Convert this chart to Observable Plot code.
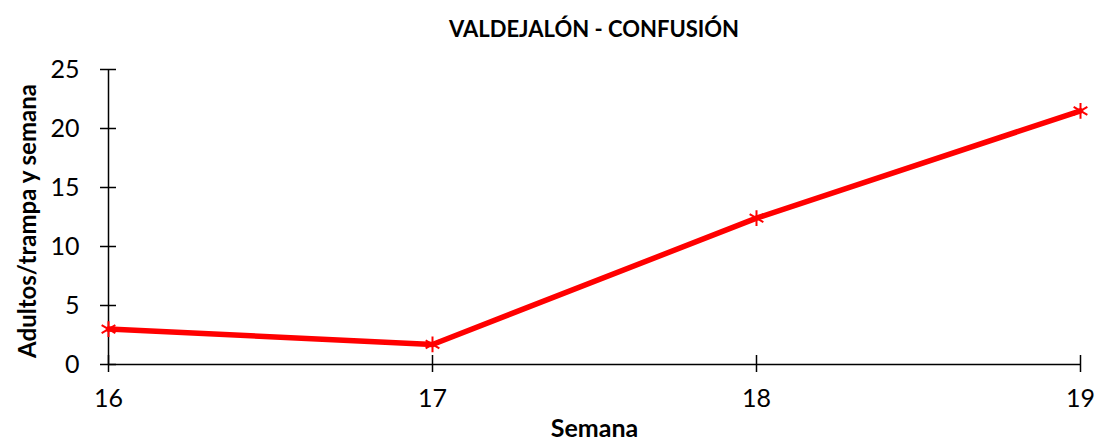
<!DOCTYPE html>
<html>
<head>
<meta charset="utf-8">
<script src="https://cdn.jsdelivr.net/npm/d3@7"></script>
<script src="https://cdn.jsdelivr.net/npm/@observablehq/plot@0.6"></script>
<style>
  body { margin: 0; background: #fff; font-family: Lato, sans-serif; }
  #title { height: 46px; width: 1099px; box-sizing: border-box; padding-left: 108px; padding-right: 19px;
           text-align: center; font-weight: bold; font-size: 22px; line-height: 58px; color: #000; overflow: hidden; }
</style>
</head>
<body>
<div id="title">VALDEJALÓN - CONFUSIÓN</div>
<div id="chart"></div>
<script>
const weeks = [16, 17, 18, 19];
const adults = [3.0, 1.7, 12.4, 21.5];
const yTicks = [0, 5, 10, 15, 20, 25];
const xTicks = [16, 17, 18, 19];
const yLabel = "Adultos/trampa y semana";
const xLabel = "Semana";

const data = weeks.map((w, i) => ({week: w, value: adults[i]}));

const chart = Plot.plot({
  width: 1099,
  height: 396,
  marginTop: 23,
  marginBottom: 78,
  marginLeft: 108,
  marginRight: 19,
  style: {fontFamily: "Lato", fontSize: "25px", color: "#000", background: "#fff", overflow: "visible"},
  x: {domain: [16, 19]},
  y: {domain: [0, 25]},
  marks: [
    Plot.ruleX([16], {stroke: "#000", strokeWidth: 1.5}),
    Plot.ruleY([0], {stroke: "#000", strokeWidth: 1.5}),
    Plot.axisY({ticks: yTicks, tickFormat: "d", tickSize: 16, dx: 8, tickPadding: 21, label: null, stroke: "#000", strokeWidth: 1.5, fontSize: 25}),
    Plot.axisX({ticks: xTicks, tickFormat: "d", tickSize: 17, dy: -9, tickPadding: 17, label: null, stroke: "#000", strokeWidth: 1.5, fontSize: 25}),
    Plot.line(data, {x: "week", y: "value", stroke: "#ff0000", strokeWidth: 5.5}),
    Plot.dot(data, {x: "week", y: "value", symbol: "asterisk", r: 7.5, stroke: "#ff0000", strokeWidth: 2}),
    Plot.text([yLabel], {frameAnchor: "left", textAnchor: "middle", rotate: -90, dx: -80, dy: 4, fontWeight: "bold", fontSize: 24}),
    Plot.text([xLabel], {frameAnchor: "bottom", dy: 72, fontWeight: "bold", fontSize: 25})
  ]
});
document.getElementById("chart").appendChild(chart);
</script>
</body>
</html>
